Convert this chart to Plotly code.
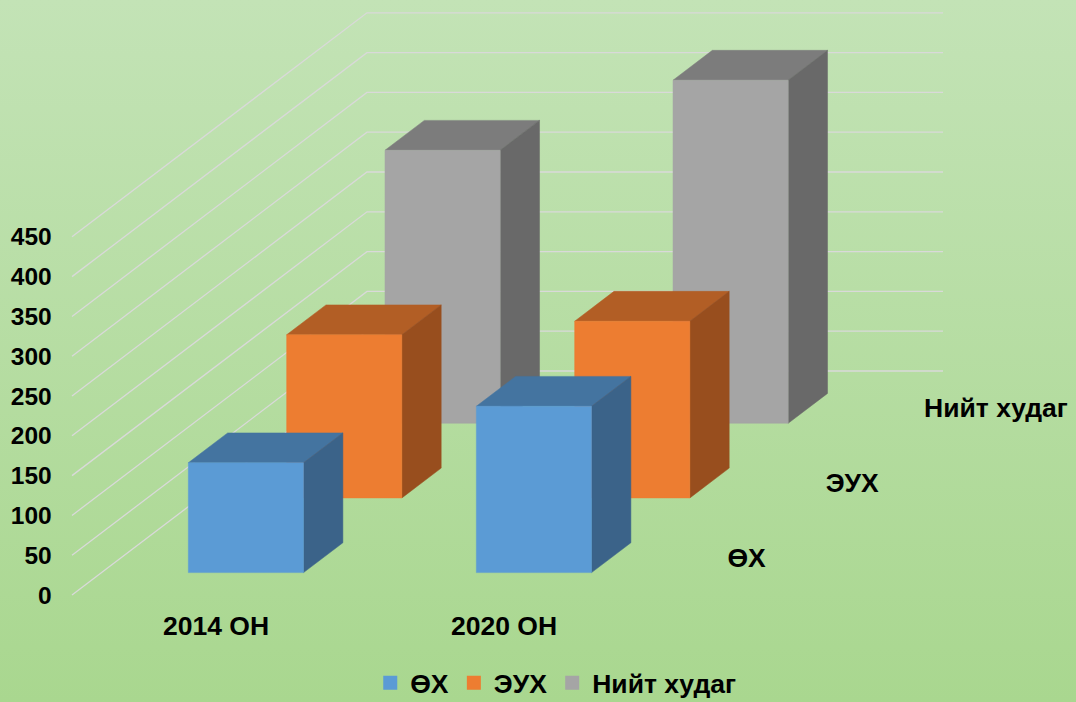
# 3D-look clustered column chart, drawn as an oblique projection on ordinary 2D axes

import plotly.graph_objects as go

# data
YEARS = ["2014 ОН", "2020 ОН"]
SERIES = ["ӨХ", "ЭУХ", "Нийт худаг"]
OH_VALUES = [138, 209]
EUH_VALUES = [205, 222]
TOTAL_VALUES = [343, 431]
Y_TICKS = [0, 50, 100, 150, 200, 250, 300, 350, 400, 450]

# colours: front, top, side
BLUE = ["#5b9bd5", "#4474a0", "#3b6389"]
ORANGE = ["#ed7d31", "#b25e25", "#984e1e"]
GREY = ["#a5a5a5", "#7c7c7c", "#696969"]

# oblique projection: one row of depth moves this far along x (categories) and y (values)
DEPTH_X = 0.3414
DEPTH_Y = 93.8
GAP = 0.3
BAR = 0.4
BAR_SHIFT = 0.0015


def project(cat, value, row):
    return cat + row * DEPTH_X, value + row * DEPTH_Y


def face(points, colour):
    xs, ys = zip(*[project(*p) for p in points])
    return go.Scatter(
        x=list(xs) + [xs[0]],
        y=list(ys) + [ys[0]],
        mode="lines",
        fill="toself",
        fillcolor=colour,
        line=dict(color=colour, width=0.5),
        hoverinfo="skip",
        showlegend=False,
    )


def column(cat_index, row, value, colours):
    x0 = cat_index + GAP + BAR_SHIFT
    x1 = x0 + BAR
    d0 = row + GAP
    d1 = d0 + BAR
    return [
        face([(x0, value, d0), (x1, value, d0), (x1, value, d1), (x0, value, d1)], colours[1]),
        face([(x1, 0, d0), (x1, 0, d1), (x1, value, d1), (x1, value, d0)], colours[2]),
        face([(x0, 0, d0), (x1, 0, d0), (x1, value, d0), (x0, value, d0)], colours[0]),
    ]


fig = go.Figure()

# background gradient
fig.add_trace(
    go.Scatter(
        x=[-0.25, 3.486, 3.486, -0.25, -0.25],
        y=[-134.4, -134.4, 747.5, 747.5, -134.4],
        mode="lines",
        line=dict(width=0),
        fill="toself",
        fillgradient=dict(
            type="vertical",
            colorscale=[[0, "#a9d78f"], [1, "#c3e3b6"]],
        ),
        hoverinfo="skip",
        showlegend=False,
    )
)

# walls: gridlines go along the side wall and then along the back wall
grid_x, grid_y = [], []
for tick in Y_TICKS:
    for cat, row in [(0, 0), (0, 3), (2, 3)]:
        px, py = project(cat, tick, row)
        grid_x.append(px)
        grid_y.append(py)
    grid_x.append(None)
    grid_y.append(None)
fig.add_trace(
    go.Scatter(
        x=grid_x,
        y=grid_y,
        mode="lines",
        line=dict(color="#d9d9d9", width=1.3),
        hoverinfo="skip",
        showlegend=False,
    )
)

# columns, back row first so the front ones cover them
rows = [(2, TOTAL_VALUES, GREY), (1, EUH_VALUES, ORANGE), (0, OH_VALUES, BLUE)]
for row, values, colours in rows:
    for i, value in enumerate(values):
        for trace in column(i, row, value, colours):
            fig.add_trace(trace)

# series axis labels
label_points = [project(2.105, -3, r + 0.5) for r in range(3)]
fig.add_trace(
    go.Scatter(
        x=[p[0] for p in label_points],
        y=[p[1] for p in label_points],
        mode="text",
        text=SERIES,
        textposition="middle right",
        textfont=dict(size=26.5, color="black", family="Liberation Sans", weight="bold"),
        hoverinfo="skip",
        showlegend=False,
    )
)

# legend keys
for name, colours in zip(SERIES, [BLUE, ORANGE, GREY]):
    fig.add_trace(
        go.Scatter(
            x=[None],
            y=[None],
            mode="markers",
            name=name,
            marker=dict(symbol="square", size=14, color=colours[0]),
        )
    )

fig.update_layout(
    width=1076,
    height=702,
    margin=dict(l=0, r=0, t=0, b=0, autoexpand=False),
    paper_bgcolor="#b6dda2",
    plot_bgcolor="rgba(0,0,0,0)",
    font=dict(family="Liberation Sans", size=24, color="black", weight="bold"),
    legend=dict(
        orientation="h",
        x=0.5165,
        xanchor="center",
        y=0.027,
        yanchor="middle",
        bgcolor="rgba(0,0,0,0)",
        font=dict(size=26.5),
    ),
)

fig.update_xaxes(
    range=[-0.25, 3.486],
    tickvals=[0.5, 1.5],
    ticktext=YEARS,
    tickfont=dict(size=26.5),
    anchor="free",
    position=0.134,
    showgrid=False,
    zeroline=False,
    showline=False,
    ticks="",
)
fig.update_yaxes(
    range=[-134.4, 747.5],
    tickvals=Y_TICKS,
    tickfont=dict(size=24.5),
    anchor="free",
    position=0.048,
    showgrid=False,
    zeroline=False,
    showline=False,
    ticks="",
)

fig.write_html(
    "out.html",
    config=dict(displayModeBar=False),
    post_script="document.body.style.margin='0';document.body.style.overflow='hidden';",
)
